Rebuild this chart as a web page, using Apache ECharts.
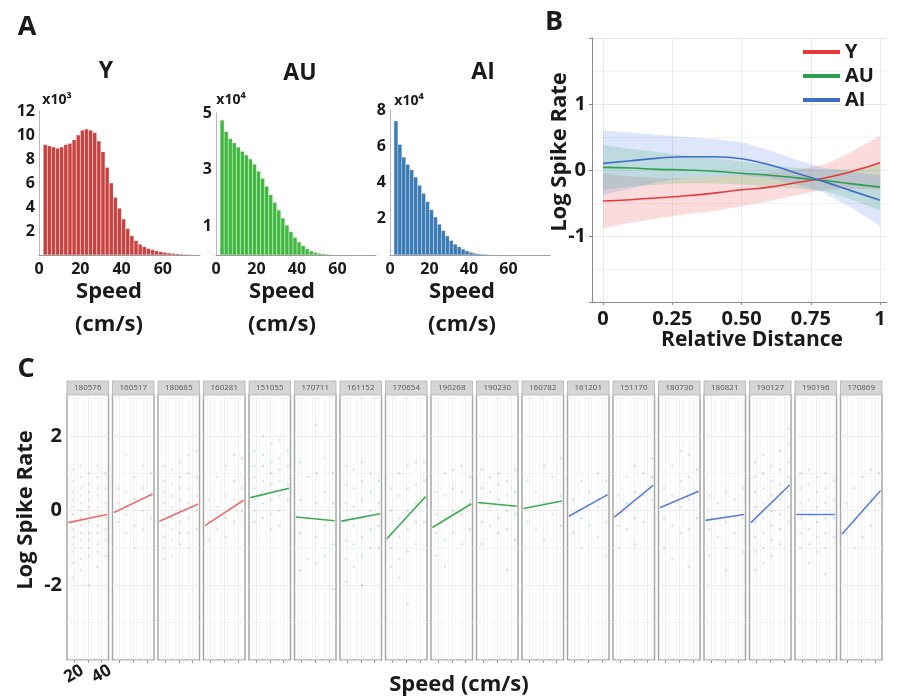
<!DOCTYPE html>
<html><head><meta charset="utf-8">
<script src="https://cdn.jsdelivr.net/npm/echarts@6/dist/echarts.min.js"></script>
<style>html,body{margin:0;padding:0;background:#fff}#c{width:899px;height:700px}</style>
</head><body><div id="c"></div>
<script>
// ---------- Panel A data (histogram bin centres, cm/s; counts in x10^3 / x10^4) ----------
const histSpeed = [3,5,7,9,11,13,15,17,19,21,23,25,27,29,31,33,35,37,39,41,43,45,47,49,51,53,55,57,59,61,63,65,67,69,71,73,75,77];
const histY  = [9.2,9.1,9.0,8.9,9.0,9.2,9.3,9.6,10.0,10.4, 10.5,10.4,10.2,9.5,8.6,7.3,6.0,4.8,3.9,3.0, 2.2,1.6,1.2,0.9,0.7,0.55,0.45,0.35,0.28,0.22, 0.17,0.13,0.1,0.08,0.06,0.05,0.04,0.03];
const histAU = [4.75,4.35,4.1,3.95,3.8,3.65,3.52,3.38,3.2,2.95, 2.7,2.42,2.12,1.85,1.58,1.3,1.05,0.82,0.62,0.46, 0.33,0.22,0.14,0.09,0.06,0.04,0.03,0.02,0.015,0.01, 0.008,0.006,0.005,0.004,0.003,0.002,0.002,0.001];
const histAI = [7.4,6.1,5.4,5.0,4.7,4.3,3.85,3.4,2.95,2.5, 2.1,1.7,1.35,1.05,0.8,0.6,0.45,0.33,0.23,0.15, 0.1,0.07,0.05,0.035,0.025,0.018,0.012,0.008,0.006,0.005, 0.004,0.003,0.003,0.002,0.002,0.001,0.001,0.001];
const histXTicks = [0,20,40,60];

// ---------- Panel B data ----------
const bDist    = [0,0.1,0.2,0.3,0.4,0.5,0.6,0.7,0.8,0.9,1];
const bYMean   = [-0.47,-0.45,-0.42,-0.39,-0.35,-0.30,-0.26,-0.19,-0.12,-0.02,0.11];
const bYUpper  = [-0.05,-0.1,-0.12,-0.12,-0.1,-0.07,-0.04,0.0,0.08,0.28,0.52];
const bYLower  = [-0.88,-0.8,-0.73,-0.67,-0.62,-0.55,-0.47,-0.38,-0.3,-0.28,-0.3];
const bAUMean  = [0.04,0.03,0.01,0.0,-0.02,-0.05,-0.08,-0.12,-0.16,-0.21,-0.26];
const bAUUpper = [0.38,0.32,0.27,0.22,0.18,0.13,0.08,0.03,0.0,0.02,0.1];
const bAULower = [-0.3,-0.25,-0.22,-0.2,-0.2,-0.22,-0.25,-0.28,-0.32,-0.45,-0.62];
const bAIMean  = [0.1,0.14,0.18,0.2,0.2,0.17,0.08,-0.05,-0.18,-0.32,-0.46];
const bAIUpper = [0.6,0.57,0.53,0.5,0.47,0.42,0.3,0.15,0.03,-0.03,-0.08];
const bAILower = [-0.38,-0.28,-0.18,-0.12,-0.1,-0.08,-0.12,-0.22,-0.35,-0.58,-0.85];
const bXTicks  = [0,0.25,0.5,0.75,1];

// ---------- Panel C data ----------
const facetIds   = ['180576','160517','180685','160281','151055','170711','161152','170654','190268','190230','160782','161201','151170','180730','180821','190127','190196','170869'];
const facetGroup = ['Y','Y','Y','Y','AU','AU','AU','AU','AU','AU','AU','AI','AI','AI','AI','AI','AI','AI'];
const fitSpeed   = [16,44];
const fitStart   = [-0.32,-0.05,-0.28,-0.4,0.35,-0.17,-0.28,-0.75,-0.45,0.22,0.06,-0.15,-0.17,0.08,-0.26,-0.32,-0.1,-0.63];
const fitEnd     = [-0.1,0.45,0.18,0.28,0.6,-0.27,-0.08,0.38,0.18,0.12,0.26,0.43,0.68,0.52,-0.1,0.69,-0.1,0.54];
// per-facet observations: [speed column, [log spike rates]]
const facetPoints = [
  [[19,[1.1,0.8,0.5,0.3,0.1,-0.1,-0.3,-0.5,-0.7,-0.9,-1.1,-1.4,-1.8]],[25,[1.2,0.9,0.6,0.4,0.2,0,-0.2,-0.4,-0.6,-0.8,-1.0,-1.3,-1.6]],[31,[1.0,0.7,0.5,0.3,0.1,-0.1,-0.3,-0.6,-0.8,-1.0,-1.2,-2.0]],[37,[1.2,0.9,0.6,0.4,0.1,-0.1,-0.4,-0.6,-0.9,-1.1,-1.5]],[43,[1.0,0.6,0.2,-0.2,-0.5,-0.8,-1.2]]],
  [[19,[0.6,0.2,-0.3]],[25,[1.5,0.5,-0.1,-0.6]],[31,[0.9,0.3,-0.4,-1.0]],[37,[1.2,0.6,0.0,-0.5]],[43,[1.0,0.4,-0.2]]],
  [[19,[1.2,0.8,0.5,0.2,-0.1,-0.4,-0.7,-1.0,-1.3]],[25,[1.1,0.7,0.4,0.1,-0.2,-0.5,-0.8,-1.2]],[31,[1.3,0.9,0.6,0.3,0,-0.3,-0.6,-0.9]],[37,[1.5,1.0,0.6,0.2,-0.2,-0.6,-1.0]],[43,[1.6,0.9,0.4,0,-0.5]]],
  [[19,[0.3,-0.3,-0.8]],[25,[0.9,0.1,-0.5]],[31,[1.2,0.4,-0.2,-0.7]],[37,[1.5,0.8,0.3,-0.3]],[43,[1.4,0.6,0.0]]],
  [[19,[1.6,1.2,0.9,0.6,0.3,0.0,-0.3]],[25,[2.0,1.5,1.2,0.8,0.5,0.2,-0.2]],[31,[1.8,1.3,1.0,0.7,0.3,-0.1,-0.5]],[37,[1.9,1.4,1.1,0.8,0.4,0.0,-0.4]],[43,[1.6,1.2,0.7,0.3]]],
  [[19,[1.3,0.3,-0.6,-1.6]],[25,[0.9,-0.2,-1.3]],[31,[2.3,1.0,0.2,-0.7,-1.4]],[37,[1.4,0.5,-0.4,-1.2]],[43,[1.0,0.2,-0.9,-2.1]]],
  [[19,[1.2,0.7,0.2,-0.3,-0.8,-1.3,-1.9]],[25,[1.1,0.6,0.1,-0.4,-0.9,-1.5]],[31,[1.3,0.8,0.3,-0.2,-0.7,-1.2,-2.0]],[37,[1.0,0.5,0.0,-0.5,-1.0]],[43,[0.8,0.2,-0.4,-1.0]]],
  [[19,[0.6,0.0,-0.6,-1.0,-1.5]],[25,[1.0,0.4,-0.2,-0.7,-1.3,-1.8]],[31,[1.2,0.6,0.0,-0.5,-1.1,-2.5]],[37,[1.3,0.7,0.2,-0.3,-0.9]],[43,[2.0,1.3,0.8,0.3,-0.3]]],
  [[19,[0.5,-0.1,-0.6,-1.2]],[25,[1.0,0.4,-0.2,-0.8,-1.5]],[31,[1.1,0.6,0.0,-0.6]],[37,[1.2,0.5,-0.1,-0.9]],[43,[0.9,0.2,-0.5]]],
  [[19,[1.1,0.6,0.2,-0.3,-0.9]],[25,[0.9,0.5,0.1,-0.4]],[31,[1.0,0.7,0.3,-0.2,-0.6]],[37,[0.8,0.4,0.0,-0.5,-1.6]],[43,[1.1,0.5,-0.1,-0.8]]],
  [[19,[0.8,-0.3]],[25,[0.5,-0.5]],[31,[1.2,0.2,-0.8]],[37,[0.9,-0.1]],[43,[1.4,0.4,-0.4]]],
  [[19,[0.3,-0.6]],[25,[0.8,-0.2,-1.0]],[31,[0.5,-0.4]],[37,[1.0,0.1,-0.7]],[43,[0.8,-0.3,-1.2]]],
  [[19,[0.4,-0.4,-1.0]],[25,[0.9,0.2,-0.5]],[31,[1.2,0.5,-0.2,-0.9]],[37,[1.0,0.4,-0.3]],[43,[1.4,0.9,0.3]]],
  [[19,[0.6,-0.2,-1.0]],[25,[1.2,0.4,-0.4,-1.3]],[31,[1.6,0.8,0.1,-0.6]],[37,[1.5,0.9,0.3,-0.5,-1.5]],[43,[1.1,0.5,-0.2]]],
  [[19,[0.4,-0.5,-1.2]],[25,[0.2,-0.7]],[31,[0.5,-0.3,-1.0,-1.6]],[37,[0.3,-0.6]],[43,[0.6,-0.2,-1.1]]],
  [[19,[1.3,0.9,0.5,0.1,-0.3,-0.7,-1.1,-1.6]],[25,[1.5,1.0,0.6,0.2,-0.2,-0.6,-1.0,-1.4]],[31,[1.2,0.8,0.4,0.0,-0.4,-0.8,-1.2]],[37,[1.6,1.1,0.7,0.3,-0.1,-0.5,-0.9]],[43,[2.2,1.8,1.3,0.9,0.5,0.1,-0.3]]],
  [[19,[1.0,0.6,0.2,-0.2,-0.6,-1.0]],[25,[1.1,0.7,0.3,-0.1,-0.5,-0.9,-1.4]],[31,[0.9,0.5,0.1,-0.3,-0.7,-1.1]],[37,[1.0,0.6,0.2,-0.2,-0.6,-1.0,-1.7]],[43,[0.8,0.3,-0.2,-0.7]]],
  [[19,[0.2,-0.6]],[25,[0.6,-0.3,-1.0]],[31,[0.9,0.0,-0.7]],[37,[1.1,0.3,-0.4]],[43,[1.0,0.2]]]
];

// ---------- build ----------
const FONT = '"Open Sans", "DejaVu Sans", sans-serif';
const grids=[], xAxes=[], yAxes=[], series=[], graphics=[];
function addGrid(g,x,y){ const i=grids.length; grids.push(g); x.gridIndex=i; y.gridIndex=i; xAxes.push(x); yAxes.push(y); return i; }
function txt(t,x,y,size,extra){ graphics.push(Object.assign({type:'text',x:x,y:y,style:{text:t,font:'bold '+size+'px '+FONT,fill:'#1a1a1a',textAlign:'center',textVerticalAlign:'middle'}},extra||{})); }

// Panel A
const histPanels = [
  {name:'Y',  vals:histY,  color:'#c8423f', left:39,  width:161, top:111, height:144, ymax:12, yint:2, xmax:78, mult:'x10³', title:[106,71], mx:[57,100], sp:109},
  {name:'AU', vals:histAU, color:'#41b83f', left:216, width:160, top:113, height:142, ymax:5,  yint:1, xmax:79, mult:'x10⁴', title:[300,73], mx:[231,100], sp:282},
  {name:'AI', vals:histAI, color:'#3b7bb6', left:390, width:160, top:110, height:145, ymax:8,  yint:2, xmax:81, mult:'x10⁴', title:[483,72], mx:[409,101], sp:462}
];
histPanels.forEach(p=>{
  const gi = addGrid({left:p.left,top:p.top,width:p.width,height:p.height},
    {type:'value',min:0,max:p.xmax,interval:20,axisLine:{show:true,onZero:false,lineStyle:{color:'#9a9a9a',width:1}},axisTick:{show:false},splitLine:{show:false},
     axisLabel:{show:true,margin:6,fontFamily:FONT,fontWeight:'bold',fontSize:16,color:'#1a1a1a',formatter:v=>histXTicks.indexOf(v)>=0?String(v):''}},
    {type:'value',min:0,max:p.ymax,interval:p.yint,axisLine:{show:true,onZero:false,lineStyle:{color:'#b8b4cc',width:1}},axisTick:{show:false},splitLine:{show:false},
     axisLabel:{show:true,margin:4,fontFamily:FONT,fontWeight:'bold',fontSize:16,color:'#1a1a1a',
       formatter:v=>{ if(v===0) return ''; if(p.name==='AU' && v%2===0) return ''; return String(v);} }});
  series.push({type:'bar',name:p.name+' speed histogram',xAxisIndex:gi,yAxisIndex:gi,barWidth:4,
    itemStyle:{color:p.color,borderColor:'rgba(255,255,255,0.3)',borderWidth:0.4},data:histSpeed.map((s,i)=>[s,p.vals[i]]),silent:true});
  txt(p.name,p.title[0],p.title[1],23);
  txt(p.mult,p.mx[0],p.mx[1],14);
  txt('Speed',p.sp,292,22);
  txt('(cm/s)',p.sp,325,22);
});
txt('A',27,27,27); txt('B',554,22,27); txt('C',26,369,27);

// Panel B
const bi = addGrid({left:592,top:38,width:295,height:264},
  {type:'value',min:-0.04,max:1.025,axisLine:{show:true,onZero:false,lineStyle:{color:'#8a8a8a'}},
   axisTick:{show:true,length:3,lineStyle:{color:'#8a8a8a'},customValues:bXTicks},
   axisLabel:{show:true,margin:7,fontFamily:FONT,fontWeight:'bold',fontSize:20,color:'#1a1a1a',customValues:bXTicks,
     formatter:v=>(v===0||v===1)?String(v):v.toFixed(2)},
   splitLine:{show:true,lineStyle:{color:'#ececec',width:1}}},
  {type:'value',min:-2,max:2,interval:1,axisLine:{show:true,onZero:false,lineStyle:{color:'#8a8a8a'}},
   axisTick:{show:true,length:3,lineStyle:{color:'#8a8a8a'}},
   axisLabel:{show:true,margin:6,fontFamily:FONT,fontWeight:'bold',fontSize:20,color:'#1a1a1a',formatter:v=>Math.abs(v)===2?'':String(v)},
   splitLine:{show:true,lineStyle:{color:'#e8e8e8'}},minorTick:{show:false,splitNumber:2},minorSplitLine:{show:true,lineStyle:{color:'#f3f3f3'}}});
function band(name,lower,upper,fill){
  const data = bDist.map((d,i)=>[d,lower[i],upper[i]]);
  series.push({type:'custom',name:name,xAxisIndex:bi,yAxisIndex:bi,silent:true,z:1,encode:{x:0,y:[1,2]},data:data,
    renderItem:(params,api)=>{
      if(params.dataIndex!==0) return null;
      const pts=[];
      for(let i=0;i<data.length;i++) pts.push(api.coord([data[i][0],data[i][2]]));
      for(let i=data.length-1;i>=0;i--) pts.push(api.coord([data[i][0],data[i][1]]));
      return {type:'polygon',shape:{points:pts},style:{fill:fill}};
    }});
}
band('Y band',bYLower,bYUpper,'rgba(240,110,110,0.25)');
band('AU band',bAULower,bAUUpper,'rgba(70,185,95,0.22)');
band('AI band',bAILower,bAIUpper,'rgba(100,140,235,0.22)');
[['Y',bYMean,'#e53a3a'],['AU',bAUMean,'#2f9e4e'],['AI',bAIMean,'#3f6fc4']].forEach(s=>{
  series.push({type:'line',name:s[0],xAxisIndex:bi,yAxisIndex:bi,smooth:true,showSymbol:false,z:3,
    lineStyle:{color:s[2],width:1.6},itemStyle:{color:s[2]},data:bDist.map((d,i)=>[d,s[1][i]])});
});
txt('Log Spike Rate',560,152,22,{rotation:Math.PI/2});
txt('Relative Distance',752,340,21);

// Panel C
const groupLine = {Y:'#e8706f',AU:'#3eaa55',AI:'#5b7fd4'};
const groupPt   = {Y:'rgba(238,120,120,0.33)',AU:'rgba(80,180,95,0.30)',AI:'rgba(110,140,220,0.30)'};
const cLeft0=67, cPitch=45.5, cWidth=41.5, cTop=395, cHeight=265;
facetIds.forEach((id,k)=>{
  const left = cLeft0 + k*cPitch;
  const first = k===0;
  const gi = addGrid({left:left,top:cTop,width:cWidth,height:cHeight,show:true,borderColor:'#a6a6a6',borderWidth:1.5,backgroundColor:'rgba(0,0,0,0)'},
    {type:'value',min:15,max:45,interval:5,axisLine:{show:false,onZero:false},
     axisTick:{show:true,length:3,lineStyle:{color:'#999'},customValues:[20,30,40]},
     axisLabel:{show:first,rotate:30,margin:14,align:'center',fontFamily:FONT,fontWeight:'bold',fontSize:17,color:'#1a1a1a',
       formatter:v=>(v===20||v===40)?String(v):''},
     splitLine:{show:true,lineStyle:{color:'#ebebeb',width:0.8}},minorTick:{show:false,splitNumber:2},
     minorSplitLine:{show:true,lineStyle:{color:'#f4f4f4',width:0.8}}},
    {type:'value',min:-4,max:3.1,interval:2,axisLine:{show:false,onZero:false},axisTick:{show:false},
     axisLabel:{show:first,margin:5,fontFamily:FONT,fontWeight:'bold',fontSize:20,color:'#1a1a1a',
       formatter:v=>(v===-2||v===0||v===2)?String(v):''},
     splitLine:{show:true,lineStyle:{color:'#e6e6e6',width:0.8}},minorTick:{show:false,splitNumber:2},
     minorSplitLine:{show:true,lineStyle:{color:'#f3f3f3',width:0.8}}});
  const pts=[];
  facetPoints[k].forEach(col=>col[1].forEach(v=>pts.push([col[0],v])));
  series.push({type:'scatter',name:id+' points',xAxisIndex:gi,yAxisIndex:gi,symbol:'circle',symbolSize:2.6,z:2,silent:true,
    itemStyle:{color:groupPt[facetGroup[k]]},data:pts});
  series.push({type:'line',name:id,xAxisIndex:gi,yAxisIndex:gi,showSymbol:false,z:3,silent:true,
    lineStyle:{color:groupLine[facetGroup[k]],width:1.6},data:fitSpeed.map((s,i)=>[s,i===0?fitStart[k]:fitEnd[k]])});
  graphics.push({type:'rect',shape:{x:left,y:381,width:cWidth,height:14},style:{fill:'#d6d6d6',stroke:'#b3b3b3',lineWidth:0.8}});
  graphics.push({type:'text',x:left+cWidth/2,y:388,style:{text:id,font:'8px '+FONT,fill:'#555',textAlign:'center',textVerticalAlign:'middle'}});
});
txt('Log Spike Rate',26,510,22,{rotation:Math.PI/2});
txt('Speed (cm/s)',459,685,22);

const chart = echarts.init(document.getElementById('c'),null,{renderer:'canvas'});
chart.setOption({
  animation:false,
  backgroundColor:'#ffffff',
  textStyle:{fontFamily:FONT},
  grid:grids, xAxis:xAxes, yAxis:yAxes, series:series,
  legend:{data:['Y','AU','AI'],orient:'vertical',left:798,top:37,icon:'rect',itemWidth:37,itemHeight:4,itemGap:4,
    textStyle:{fontFamily:FONT,fontWeight:'bold',fontSize:20,color:'#1a1a1a',lineHeight:19},selectedMode:false},
  graphic:graphics
});
</script></body></html>
